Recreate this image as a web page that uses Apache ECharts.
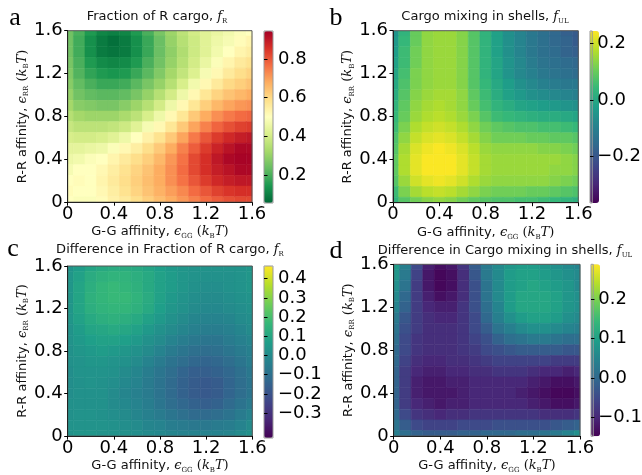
<!DOCTYPE html>
<html>
<head>
<meta charset="utf-8">
<title>affinity maps</title>
<script src="https://cdn.jsdelivr.net/npm/echarts@6/dist/echarts.min.js"></script>
<style>
  html, body { margin: 0; padding: 0; background: #fff; }
  #chart { width: 642px; height: 475px; }
</style>
</head>
<body>
<div id="chart"></div>
<script>
// grid points of both affinities (kBT), step 0.1
var eps = [0, 0.1, 0.2, 0.3, 0.4, 0.5, 0.6, 0.7, 0.8, 0.9, 1.0, 1.1, 1.2, 1.3, 1.4, 1.5, 1.6];
var step = 0.1;
var axisTicks = [0, 0.4, 0.8, 1.2, 1.6];

// rows: eps_RR = 1.6 (top) down to 0 ; columns: eps_GG = 0 .. 1.6
var fracR = [
  [0.25, 0.20, 0.15, 0.11, 0.10, 0.11, 0.15, 0.20, 0.26, 0.31, 0.36, 0.40, 0.43, 0.45, 0.47, 0.49, 0.50],
  [0.25, 0.19, 0.13, 0.09, 0.07, 0.09, 0.13, 0.18, 0.24, 0.30, 0.35, 0.39, 0.43, 0.46, 0.48, 0.51, 0.53],
  [0.25, 0.19, 0.13, 0.09, 0.08, 0.09, 0.13, 0.18, 0.24, 0.29, 0.34, 0.39, 0.43, 0.47, 0.50, 0.53, 0.55],
  [0.26, 0.20, 0.15, 0.12, 0.11, 0.12, 0.15, 0.20, 0.25, 0.30, 0.35, 0.40, 0.45, 0.49, 0.53, 0.56, 0.58],
  [0.27, 0.21, 0.17, 0.15, 0.14, 0.15, 0.18, 0.22, 0.27, 0.32, 0.37, 0.42, 0.48, 0.52, 0.56, 0.59, 0.61],
  [0.28, 0.23, 0.20, 0.18, 0.18, 0.19, 0.22, 0.26, 0.30, 0.35, 0.41, 0.47, 0.52, 0.56, 0.60, 0.62, 0.64],
  [0.30, 0.25, 0.23, 0.22, 0.22, 0.23, 0.26, 0.30, 0.35, 0.40, 0.46, 0.52, 0.57, 0.61, 0.64, 0.66, 0.68],
  [0.32, 0.28, 0.27, 0.26, 0.26, 0.28, 0.31, 0.35, 0.40, 0.46, 0.52, 0.57, 0.62, 0.66, 0.69, 0.71, 0.72],
  [0.35, 0.32, 0.31, 0.31, 0.31, 0.33, 0.36, 0.41, 0.46, 0.52, 0.57, 0.63, 0.68, 0.72, 0.75, 0.77, 0.78],
  [0.38, 0.36, 0.36, 0.36, 0.37, 0.39, 0.43, 0.48, 0.52, 0.57, 0.63, 0.69, 0.74, 0.78, 0.81, 0.83, 0.84],
  [0.41, 0.40, 0.40, 0.41, 0.43, 0.46, 0.50, 0.54, 0.58, 0.63, 0.69, 0.75, 0.80, 0.84, 0.87, 0.89, 0.90],
  [0.44, 0.44, 0.45, 0.46, 0.49, 0.52, 0.55, 0.59, 0.63, 0.68, 0.74, 0.79, 0.84, 0.88, 0.91, 0.93, 0.93],
  [0.46, 0.47, 0.49, 0.50, 0.53, 0.56, 0.59, 0.62, 0.66, 0.71, 0.76, 0.82, 0.86, 0.90, 0.93, 0.94, 0.94],
  [0.48, 0.50, 0.50, 0.52, 0.55, 0.58, 0.61, 0.64, 0.68, 0.72, 0.77, 0.82, 0.86, 0.89, 0.91, 0.93, 0.93],
  [0.50, 0.51, 0.50, 0.53, 0.56, 0.59, 0.62, 0.65, 0.68, 0.72, 0.76, 0.80, 0.84, 0.87, 0.89, 0.90, 0.90],
  [0.51, 0.50, 0.50, 0.52, 0.55, 0.58, 0.61, 0.64, 0.67, 0.70, 0.73, 0.77, 0.80, 0.83, 0.85, 0.86, 0.86],
  [0.50, 0.49, 0.49, 0.51, 0.54, 0.56, 0.59, 0.62, 0.65, 0.68, 0.71, 0.74, 0.77, 0.79, 0.81, 0.82, 0.82]
];
var mixUL = [
  [-0.05, 0.03, 0.10, 0.14, 0.15, 0.15, 0.13, 0.08, 0.03, -0.02, -0.06, -0.09, -0.12, -0.14, -0.16, -0.18, -0.19],
  [-0.04, 0.04, 0.10, 0.14, 0.15, 0.15, 0.13, 0.08, 0.03, -0.02, -0.06, -0.09, -0.12, -0.14, -0.16, -0.17, -0.19],
  [-0.03, 0.05, 0.11, 0.14, 0.15, 0.15, 0.13, 0.08, 0.03, -0.02, -0.06, -0.09, -0.12, -0.14, -0.15, -0.17, -0.18],
  [-0.02, 0.05, 0.11, 0.14, 0.15, 0.15, 0.13, 0.08, 0.03, -0.01, -0.05, -0.08, -0.11, -0.13, -0.14, -0.15, -0.16],
  [-0.01, 0.06, 0.12, 0.14, 0.15, 0.15, 0.13, 0.08, 0.03, -0.01, -0.05, -0.08, -0.10, -0.12, -0.13, -0.14, -0.15],
  [0.00, 0.07, 0.12, 0.14, 0.15, 0.15, 0.13, 0.08, 0.04, 0.00, -0.03, -0.06, -0.08, -0.10, -0.11, -0.12, -0.12],
  [0.01, 0.08, 0.13, 0.15, 0.16, 0.16, 0.14, 0.09, 0.05, 0.01, -0.02, -0.04, -0.06, -0.07, -0.08, -0.09, -0.10],
  [0.03, 0.09, 0.14, 0.16, 0.17, 0.16, 0.14, 0.10, 0.06, 0.03, 0.01, -0.01, -0.02, -0.03, -0.04, -0.05, -0.06],
  [0.04, 0.10, 0.15, 0.17, 0.18, 0.17, 0.15, 0.12, 0.08, 0.05, 0.04, 0.03, 0.02, 0.01, 0.01, 0.00, -0.01],
  [0.05, 0.12, 0.17, 0.19, 0.20, 0.19, 0.17, 0.14, 0.11, 0.09, 0.08, 0.07, 0.07, 0.06, 0.06, 0.05, 0.04],
  [0.07, 0.14, 0.19, 0.21, 0.22, 0.21, 0.19, 0.16, 0.13, 0.11, 0.11, 0.11, 0.10, 0.10, 0.09, 0.09, 0.08],
  [0.08, 0.16, 0.21, 0.23, 0.24, 0.23, 0.21, 0.18, 0.15, 0.14, 0.14, 0.14, 0.14, 0.13, 0.13, 0.12, 0.11],
  [0.09, 0.17, 0.22, 0.24, 0.24, 0.24, 0.22, 0.19, 0.16, 0.15, 0.15, 0.15, 0.15, 0.15, 0.15, 0.14, 0.13],
  [0.09, 0.17, 0.22, 0.24, 0.24, 0.24, 0.22, 0.19, 0.16, 0.15, 0.15, 0.15, 0.15, 0.15, 0.14, 0.14, 0.13],
  [0.08, 0.15, 0.20, 0.22, 0.23, 0.22, 0.20, 0.17, 0.15, 0.14, 0.14, 0.14, 0.14, 0.14, 0.13, 0.12, 0.11],
  [0.05, 0.12, 0.16, 0.18, 0.19, 0.18, 0.16, 0.14, 0.12, 0.11, 0.11, 0.11, 0.10, 0.10, 0.09, 0.08, 0.07],
  [0.03, 0.08, 0.11, 0.13, 0.14, 0.13, 0.11, 0.09, 0.08, 0.07, 0.07, 0.06, 0.06, 0.05, 0.04, 0.03, 0.02]
];
var diffFracR = [
  [0.03, 0.06, 0.09, 0.11, 0.12, 0.12, 0.11, 0.09, 0.07, 0.05, 0.04, 0.03, 0.03, 0.03, 0.03, 0.03, 0.04],
  [0.04, 0.08, 0.12, 0.14, 0.15, 0.15, 0.13, 0.11, 0.08, 0.06, 0.04, 0.03, 0.02, 0.02, 0.02, 0.03, 0.04],
  [0.04, 0.09, 0.13, 0.16, 0.17, 0.16, 0.14, 0.11, 0.08, 0.06, 0.04, 0.02, 0.01, 0.01, 0.02, 0.03, 0.04],
  [0.04, 0.09, 0.14, 0.16, 0.17, 0.17, 0.15, 0.12, 0.08, 0.05, 0.03, 0.01, 0.00, 0.00, 0.01, 0.02, 0.03],
  [0.04, 0.09, 0.13, 0.15, 0.16, 0.16, 0.14, 0.11, 0.07, 0.04, 0.02, 0.00, -0.01, -0.01, 0.00, 0.01, 0.02],
  [0.04, 0.08, 0.11, 0.13, 0.14, 0.13, 0.11, 0.08, 0.05, 0.02, 0.00, -0.02, -0.03, -0.03, -0.02, 0.00, 0.01],
  [0.03, 0.06, 0.09, 0.10, 0.11, 0.10, 0.08, 0.05, 0.02, 0.00, -0.02, -0.04, -0.05, -0.05, -0.04, -0.02, 0.00],
  [0.03, 0.05, 0.07, 0.08, 0.08, 0.07, 0.05, 0.02, 0.00, -0.03, -0.05, -0.07, -0.08, -0.08, -0.06, -0.04, -0.02],
  [0.02, 0.04, 0.05, 0.06, 0.05, 0.04, 0.02, 0.00, -0.03, -0.06, -0.08, -0.10, -0.11, -0.10, -0.08, -0.06, -0.04],
  [0.02, 0.03, 0.04, 0.04, 0.03, 0.02, 0.00, -0.03, -0.06, -0.09, -0.11, -0.13, -0.14, -0.13, -0.11, -0.08, -0.05],
  [0.01, 0.03, 0.03, 0.03, 0.02, 0.00, -0.02, -0.05, -0.08, -0.11, -0.14, -0.16, -0.16, -0.15, -0.13, -0.10, -0.07],
  [0.01, 0.02, 0.03, 0.02, 0.01, -0.01, -0.03, -0.06, -0.09, -0.12, -0.15, -0.17, -0.18, -0.17, -0.14, -0.11, -0.08],
  [0.01, 0.02, 0.02, 0.02, 0.00, -0.02, -0.04, -0.06, -0.09, -0.12, -0.15, -0.17, -0.18, -0.17, -0.14, -0.11, -0.08],
  [0.02, 0.02, 0.02, 0.02, 0.00, -0.01, -0.03, -0.05, -0.08, -0.11, -0.13, -0.15, -0.16, -0.15, -0.12, -0.09, -0.06],
  [0.02, 0.03, 0.03, 0.02, 0.01, 0.00, -0.02, -0.04, -0.06, -0.08, -0.10, -0.12, -0.12, -0.11, -0.09, -0.06, -0.03],
  [0.03, 0.03, 0.03, 0.03, 0.02, 0.01, 0.00, -0.02, -0.03, -0.05, -0.06, -0.07, -0.07, -0.06, -0.05, -0.03, 0.00],
  [0.03, 0.04, 0.04, 0.03, 0.03, 0.02, 0.01, 0.00, -0.01, -0.02, -0.03, -0.03, -0.03, -0.03, -0.02, 0.00, 0.02]
];
var diffMixUL = [
  [0.09, 0.04, -0.05, -0.11, -0.13, -0.12, -0.08, -0.02, 0.03, 0.06, 0.08, 0.09, 0.09, 0.08, 0.07, 0.06, 0.05],
  [0.08, 0.03, -0.06, -0.12, -0.14, -0.13, -0.09, -0.03, 0.03, 0.06, 0.09, 0.10, 0.10, 0.09, 0.08, 0.07, 0.06],
  [0.07, 0.02, -0.07, -0.12, -0.14, -0.13, -0.09, -0.04, 0.02, 0.06, 0.09, 0.10, 0.11, 0.10, 0.09, 0.08, 0.06],
  [0.06, 0.00, -0.07, -0.11, -0.13, -0.12, -0.09, -0.04, 0.02, 0.06, 0.09, 0.11, 0.11, 0.11, 0.10, 0.08, 0.07],
  [0.05, -0.01, -0.07, -0.10, -0.11, -0.11, -0.08, -0.04, 0.01, 0.05, 0.09, 0.11, 0.11, 0.11, 0.10, 0.08, 0.07],
  [0.03, -0.03, -0.07, -0.09, -0.10, -0.10, -0.08, -0.05, 0.00, 0.04, 0.07, 0.09, 0.10, 0.10, 0.09, 0.07, 0.06],
  [0.02, -0.04, -0.07, -0.09, -0.09, -0.09, -0.08, -0.05, -0.02, 0.02, 0.04, 0.06, 0.07, 0.07, 0.06, 0.05, 0.04],
  [0.01, -0.05, -0.08, -0.09, -0.09, -0.09, -0.08, -0.06, -0.04, -0.01, 0.01, 0.02, 0.03, 0.03, 0.02, 0.01, 0.01],
  [0.00, -0.05, -0.08, -0.09, -0.09, -0.09, -0.08, -0.07, -0.05, -0.04, -0.03, -0.02, -0.02, -0.02, -0.02, -0.03, -0.03],
  [0.00, -0.06, -0.09, -0.10, -0.10, -0.09, -0.09, -0.08, -0.07, -0.06, -0.06, -0.06, -0.06, -0.06, -0.07, -0.07, -0.07],
  [-0.01, -0.07, -0.10, -0.11, -0.11, -0.10, -0.10, -0.09, -0.09, -0.08, -0.08, -0.08, -0.09, -0.10, -0.10, -0.11, -0.10],
  [-0.01, -0.07, -0.11, -0.12, -0.12, -0.11, -0.11, -0.10, -0.10, -0.10, -0.10, -0.10, -0.11, -0.12, -0.13, -0.13, -0.12],
  [-0.01, -0.07, -0.11, -0.12, -0.12, -0.12, -0.11, -0.10, -0.10, -0.10, -0.10, -0.11, -0.12, -0.13, -0.14, -0.14, -0.13],
  [-0.01, -0.07, -0.10, -0.11, -0.12, -0.11, -0.11, -0.10, -0.10, -0.10, -0.10, -0.10, -0.11, -0.12, -0.13, -0.13, -0.12],
  [0.00, -0.05, -0.08, -0.09, -0.10, -0.09, -0.09, -0.08, -0.08, -0.08, -0.08, -0.08, -0.08, -0.09, -0.09, -0.09, -0.08],
  [0.02, -0.02, -0.05, -0.06, -0.06, -0.06, -0.05, -0.05, -0.05, -0.04, -0.04, -0.04, -0.04, -0.04, -0.03, -0.02, -0.01],
  [0.04, 0.01, -0.01, -0.02, -0.02, -0.02, -0.01, -0.01, 0.00, 0.00, 0.00, 0.01, 0.01, 0.02, 0.03, 0.05, 0.07]
];

// colorbar ranges and ticks
var rangeA = [0.055, 0.945], cbTicksA = [0.2, 0.4, 0.6, 0.8];
var rangeB = [-0.364, 0.243], cbTicksB = [-0.2, 0.0, 0.2];
var rangeC = [-0.43, 0.466], cbTicksC = [-0.3, -0.2, -0.1, 0.0, 0.1, 0.2, 0.3, 0.4];
var rangeD = [-0.148, 0.288], cbTicksD = [-0.1, 0.0, 0.1, 0.2];

var rdylgnR = ['#006837', '#1a9850', '#66bd63', '#a6d96a', '#d9ef8b', '#ffffbf',
               '#fee08b', '#fdae61', '#f46d43', '#d73027', '#a50026'];
var viridis = ['#440154', '#482878', '#3e4989', '#31688e', '#26828e', '#1f9e89',
               '#35b779', '#6ece58', '#b5de2b', '#fde725'];

function toCells(rows) {
  var out = [];
  for (var i = 0; i < rows.length; i++) {
    for (var j = 0; j < rows[i].length; j++) {
      out.push([eps[j], eps[eps.length - 1 - i], rows[i][j]]);
    }
  }
  return out;
}

function cell(params, api) {
  var x = api.value(0), y = api.value(1), h = step / 2;
  var p0 = api.coord([x - h, y + h]);
  var p1 = api.coord([x + h, y - h]);
  var cs = params.coordSys;
  var r = echarts.graphic.clipRectByRect(
    {x: p0[0], y: p0[1], width: p1[0] - p0[0], height: p1[1] - p0[1]},
    {x: cs.x, y: cs.y, width: cs.width, height: cs.height});
  if (!r) return;
  var c = api.visual('color');
  return {type: 'rect', shape: r, style: {fill: c, stroke: c, lineWidth: 0.6}};
}

var sans = 'DejaVu Sans';
var rich = {
  m: {fontFamily: 'DejaVu Serif', fontStyle: 'italic', fontSize: 13, lineHeight: 16, color: '#111'},
  n: {fontFamily: 'DejaVu Serif', fontSize: 13, lineHeight: 16, color: '#111'},
  s: {fontFamily: 'DejaVu Serif', fontSize: 7, lineHeight: 8, verticalAlign: 'bottom', color: '#111'}
};
var xName = 'G-G affinity, {m|ϵ}{s|GG} {n|(}{m|k}{s|B}{m|T}{n|)}';
var yName = 'R-R affinity, {m|ϵ}{s|RR} {n|(}{m|k}{s|B}{m|T}{n|)}';

var panels = [
  {grid: [67.7, 30.7, 184.3, 171.5], cb: [264, 31, 9, 172], data: fracR, range: rangeA, ticks: cbTicksA, colors: rdylgnR},
  {grid: [393, 30.7, 185.3, 172], cb: [590, 31, 9, 172], data: mixUL, range: rangeB, ticks: cbTicksB, colors: viridis},
  {grid: [67.7, 266, 184.6, 171.7], cb: [264, 266, 9, 172], data: diffFracR, range: rangeC, ticks: cbTicksC, colors: viridis},
  {grid: [393.7, 264.3, 186.3, 171.7], cb: [591, 264.3, 9, 172], data: diffMixUL, range: rangeD, ticks: cbTicksD, colors: viridis}
];

var grids = [], xAxes = [], yAxes = [], series = [], visualMaps = [];
panels.forEach(function (p, k) {
  grids.push({left: p.grid[0], top: p.grid[1], width: p.grid[2], height: p.grid[3],
              show: true, borderColor: '#555', borderWidth: 1, backgroundColor: 'transparent', z: 3});
  var axBase = {
    type: 'value', min: 0, max: 1.6, gridIndex: k,
    axisLine: {show: true, lineStyle: {color: '#222', width: 1}},
    axisTick: {show: true, length: 3.5, lineStyle: {color: '#000'}, customValues: axisTicks},
    splitLine: {show: false},
    axisLabel: {fontSize: 18, fontFamily: sans, color: '#000', customValues: axisTicks,
                formatter: function (v) { return v === 0 ? '0' : v.toFixed(1); }},
    nameLocation: 'middle',
    nameTextStyle: {fontSize: 13, fontFamily: sans, color: '#111', lineHeight: 16, rich: rich},
    z: 4
  };
  xAxes.push(Object.assign({}, axBase, {position: 'bottom', name: xName, nameGap: 21,
    axisLabel: Object.assign({}, axBase.axisLabel, {margin: 3})}));
  yAxes.push(Object.assign({}, axBase, {position: 'left', name: yName, nameGap: 36,
    axisLabel: Object.assign({}, axBase.axisLabel, {margin: 5})}));
  series.push({type: 'custom', xAxisIndex: k, yAxisIndex: k, renderItem: cell, clip: true,
               encode: {x: 0, y: 1}, data: toCells(p.data), silent: true});
  visualMaps.push({type: 'continuous', seriesIndex: k, dimension: 2,
                   min: p.range[0], max: p.range[1], calculable: false, realtime: false,
                   left: p.cb[0], top: p.cb[1], itemWidth: p.cb[2], itemHeight: p.cb[3],
                   padding: 0, text: null, showLabel: false, hoverLink: false,
                   inRange: {color: p.colors}});
});

// colorbar axes
panels.forEach(function (p, k) {
  var g = 4 + k;
  grids.push({left: p.cb[0], top: p.cb[1], width: p.cb[2], height: p.cb[3],
              show: true, borderColor: '#999', borderWidth: 1, backgroundColor: 'transparent', z: 6});
  xAxes.push({type: 'value', gridIndex: g, show: false, min: 0, max: 1});
  yAxes.push({type: 'value', gridIndex: g, position: 'right', min: p.range[0], max: p.range[1],
              axisLine: {show: false}, splitLine: {show: false},
              axisTick: {show: true, length: 3.5, lineStyle: {color: '#000'}, customValues: p.ticks},
              axisLabel: {fontSize: 18, fontFamily: sans, color: '#000', margin: 5,
                          customValues: p.ticks,
                          formatter: function (v) {
                            if (Math.abs(v) < 1e-9) return '0.0';
                            return (v < 0 ? '\u2212' : '') + Math.abs(v).toFixed(1);
                          }},
              z: 7});
});

var titles = [
  {x: 157, y: 17, text: 'Fraction of R cargo, {m|f}{s|R}'},
  {x: 485, y: 17, text: 'Cargo mixing in shells, {m|f}{s|UL}'},
  {x: 170, y: 250, text: 'Difference in Fraction of R cargo, {m|f}{s|R}'},
  {x: 505, y: 251, text: 'Difference in Cargo mixing in shells, {m|f}{s|UL}'}
];
var letters = [
  {x: 15, y: 31, t: 'a'}, {x: 336, y: 31, t: 'b'},
  {x: 13, y: 262, t: 'c'}, {x: 336, y: 264, t: 'd'}
];
var graphics = [];
titles.forEach(function (t) {
  graphics.push({type: 'text', x: t.x, y: t.y, z: 10,
    style: {text: t.text, fontSize: 13, fontFamily: sans, fill: '#111', lineHeight: 16,
            align: 'center', verticalAlign: 'middle', rich: rich}});
});
letters.forEach(function (l) {
  graphics.push({type: 'text', x: l.x, y: l.y, z: 10,
    style: {text: l.t, fontSize: 26, fontFamily: 'Liberation Serif', fill: '#000',
            align: 'center', verticalAlign: 'bottom'}});
});

var chart = echarts.init(document.getElementById('chart'), null, {renderer: 'canvas'});
chart.setOption({
  animation: false,
  backgroundColor: '#fff',
  grid: grids,
  xAxis: xAxes,
  yAxis: yAxes,
  visualMap: visualMaps,
  series: series,
  graphic: graphics
});
</script>
</body>
</html>
